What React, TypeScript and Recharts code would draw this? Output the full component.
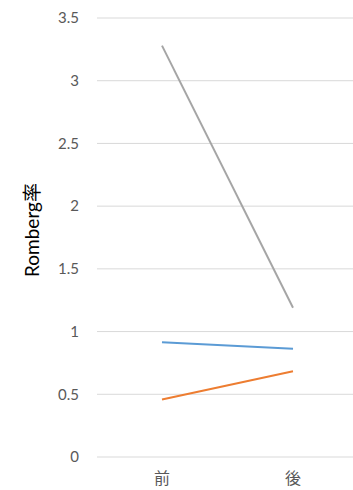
import { LineChart, Line, XAxis, YAxis, CartesianGrid } from "recharts";

const phases = ["前", "後"];
const graySeries = [3.28, 1.19];
const blueSeries = [0.914, 0.863];
const orangeSeries = [0.458, 0.684];
const yTicks = [0, 0.5, 1, 1.5, 2, 2.5, 3, 3.5];

const data = phases.map((p, i) => ({
  phase: p,
  gray: graySeries[i],
  blue: blueSeries[i],
  orange: orangeSeries[i],
}));

const FONT = "Lato, 'Noto Sans CJK JP', sans-serif";

// rotated axis title, placed a little above the plot's vertical center like the original
function AxisTitle() {
  const x = 39;
  const y = 230;
  return (
    <text
      x={x}
      y={y}
      transform={`rotate(-90 ${x} ${y})`}
      textAnchor="middle"
      fill="#000"
      fontSize={19}
      fontFamily={FONT}
    >
      Romberg率
    </text>
  );
}

export default function App() {
  return (
    <div style={{ position: "absolute", left: 0, top: 0, width: 353, height: 490, background: "#fff" }}>
      <LineChart
        width={353}
        height={490}
        data={data}
        margin={{ top: 18, right: 0, bottom: 3, left: 0 }}
      >
        <CartesianGrid vertical={false} stroke="#d9d9d9" strokeWidth={1} />
        <XAxis
          dataKey="phase"
          height={30}
          axisLine={false}
          tickLine={false}
          padding={{ left: 65, right: 60 }}
          tickMargin={10}
          tick={{ fill: "#595959", fontSize: 16, fontFamily: FONT }}
        />
        <YAxis
          width={97}
          domain={[0, 3.5]}
          ticks={yTicks}
          axisLine={false}
          tickLine={false}
          tickMargin={12}
          tick={{ fill: "#595959", fontSize: 15, fontFamily: FONT }}
          label={{ content: () => <AxisTitle /> }}
        />
        <Line dataKey="gray" stroke="#a5a5a5" strokeWidth={2} dot={false} isAnimationActive={false} />
        <Line dataKey="blue" stroke="#5b9bd5" strokeWidth={2} dot={false} isAnimationActive={false} />
        <Line dataKey="orange" stroke="#ed7d31" strokeWidth={2} dot={false} isAnimationActive={false} />
      </LineChart>
    </div>
  );
}
